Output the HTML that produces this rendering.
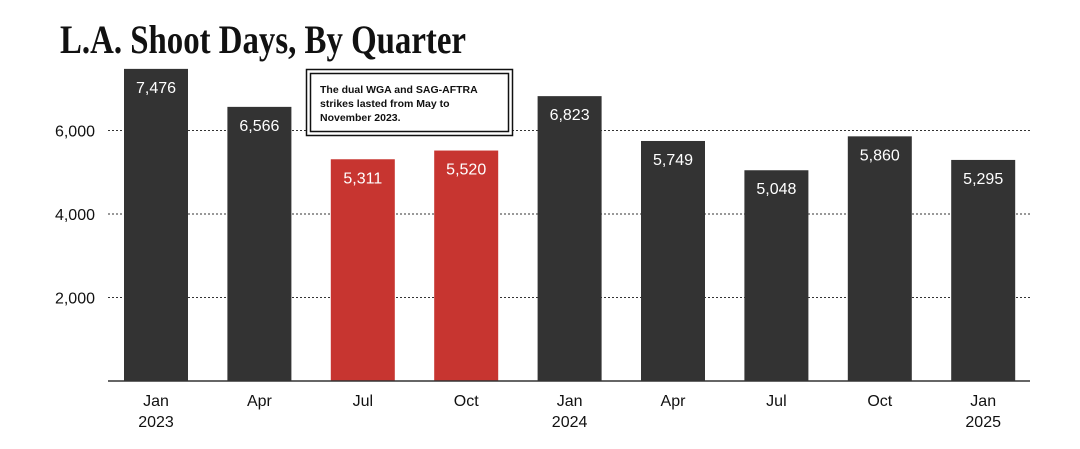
<!DOCTYPE html>
<html><head><meta charset="utf-8"><style>
html,body{margin:0;padding:0;background:#fff;}
svg{display:block;}
text{font-family:"Liberation Sans",sans-serif;}
</style></head><body>
<svg id="chart" width="1080" height="449" viewBox="0 0 1080 449" xmlns="http://www.w3.org/2000/svg">
<text x="60" y="53" font-family="Liberation Serif, serif" font-weight="bold" font-size="40" textLength="406" lengthAdjust="spacingAndGlyphs" fill="#111" style="font-family:'Liberation Serif',serif">L.A. Shoot Days, By Quarter</text>
<g id="grid"></g>
<g id="bars"></g>
<g id="xlabels"></g>
<line x1="108" x2="1030" y1="381" y2="381" stroke="#333" stroke-width="1.5"/>
<g>
<rect x="306.5" y="69.5" width="206" height="66" fill="#fff" stroke="#111" stroke-width="1.5"/>
<rect x="310.5" y="73.5" width="198" height="58" fill="none" stroke="#111" stroke-width="1.5"/>
<text x="320" y="93" font-size="10.5" font-weight="bold" fill="#111">The dual WGA and SAG-AFTRA</text>
<text x="320" y="107" font-size="10.5" font-weight="bold" fill="#111">strikes lasted from May to</text>
<text x="320" y="121" font-size="10.5" font-weight="bold" fill="#111">November 2023.</text>
</g>
</svg>
<script>
const categories = ["Jan","Apr","Jul","Oct","Jan","Apr","Jul","Oct","Jan"];
const years = ["2023","","","","2024","","","","2025"];
const values = [7476,6566,5311,5520,6823,5749,5048,5860,5295];
const strike = [false,false,true,true,false,false,false,false,false];
const yTicks = [2000,4000,6000];
const yTickLabels = ["2,000","4,000","6,000"];

const NS="http://www.w3.org/2000/svg";
const y0=381, pxPer=83.5/2000;
const yScale=v=>y0-v*pxPer;
const xStart=124, step=103.4, bw=64;
const xScale=i=>xStart+i*step;
function mk(tag,attrs,parent){const e=document.createElementNS(NS,tag);for(const k in attrs)e.setAttribute(k,attrs[k]);parent.appendChild(e);return e;}
const grid=document.getElementById('grid'),bars=document.getElementById('bars'),xl=document.getElementById('xlabels');
yTicks.forEach((t,i)=>{
  const l=mk('line',{x1:108,x2:1030,y1:yScale(t),y2:yScale(t),stroke:'#333','stroke-width':1,'stroke-dasharray':'2,2'},grid);
  
  
  const tx=mk('text',{x:95,y:yScale(t)+6,'text-anchor':'end','font-size':16,fill:'#111'},grid);
  tx.textContent=yTickLabels[i];
  
  
});
values.forEach((v,i)=>{
  const x=xScale(i);
  const r=mk('rect',{x:x,y:yScale(v),width:bw,height:y0-yScale(v),fill:strike[i]?'#c73530':'#333'},bars);
  
  
  const t=mk('text',{x:x+bw/2,y:yScale(v)+24,'text-anchor':'middle','font-size':16,fill:'#fff'},bars);
  t.textContent=v.toLocaleString('en-US');
  
  
  const c=mk('text',{x:x+bw/2,y:406,'text-anchor':'middle','font-size':16,fill:'#111'},xl);
  c.textContent=categories[i];
  
  
  if(years[i]){
    const yr=mk('text',{x:x+bw/2,y:427,'text-anchor':'middle','font-size':16,fill:'#111'},xl);
    yr.textContent=years[i];
    
    
  }
});
</script>
</body></html>
